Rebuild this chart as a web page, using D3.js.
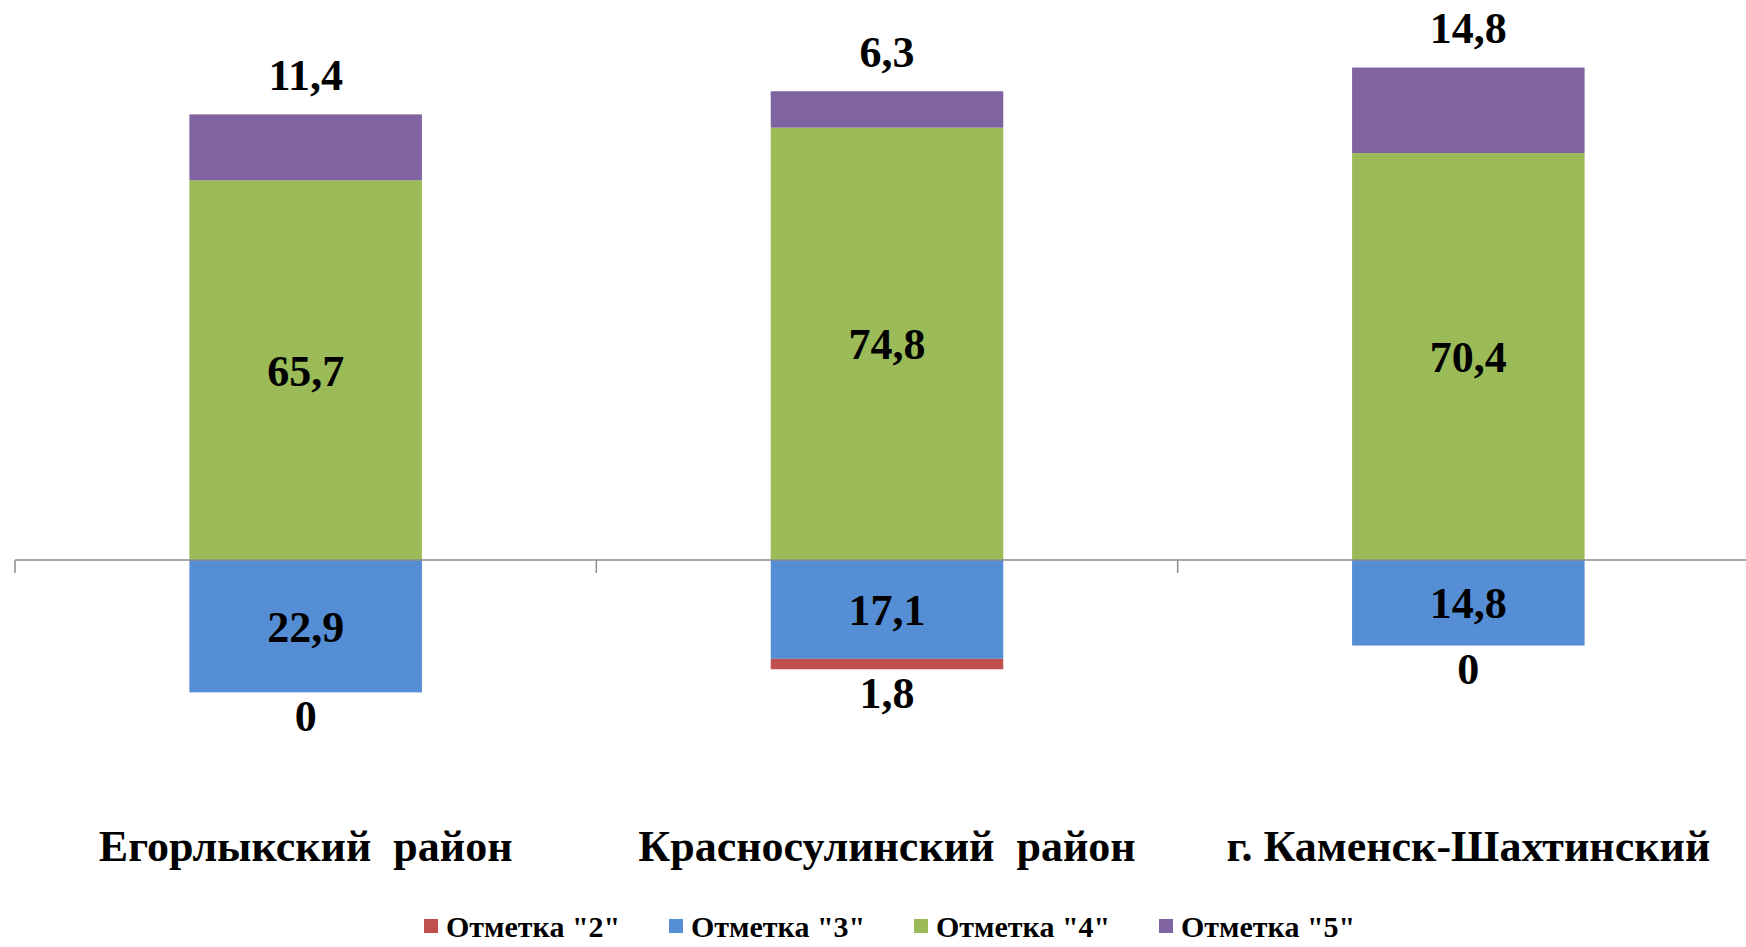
<!DOCTYPE html>
<html><head><meta charset="utf-8">
<script src="https://cdn.jsdelivr.net/npm/d3@7"></script>
<style>html,body{margin:0;padding:0;background:#fff;overflow:hidden}</style>
</head><body>
<svg id="c" width="1746" height="947"></svg>
<script>
const categories = ["Егорлыкский  район", "Красносулинский  район", "г. Каменск-Шахтинский"];
const seriesNames = ["Отметка \"2\"", "Отметка \"3\"", "Отметка \"4\"", "Отметка \"5\""];
const mark2 = [0, 1.8, 0];
const mark3 = [22.9, 17.1, 14.8];
const mark4 = [65.7, 74.8, 70.4];
const mark5 = [11.4, 6.3, 14.8];
const labels2 = ["0", "1,8", "0"];
const labels3 = ["22,9", "17,1", "14,8"];
const labels4 = ["65,7", "74,8", "70,4"];
const labels5 = ["11,4", "6,3", "14,8"];
const colors = ["#C0504D", "#558ED5", "#9BBB59", "#8064A2"];

const svg = d3.select("#c");
const font = "'Liberation Serif','Times New Roman',serif";

const x = d3.scaleBand().domain(categories).range([15, 1759]).paddingInner(0.6).paddingOuter(0.3);
const y = d3.scaleLinear().domain([-30, 90]).range([560 + 30 * 5.78, 560 - 90 * 5.78]);

const segs = [];
categories.forEach((c, i) => {
  segs.push({c, s: 2, y0: 0, y1: mark4[i], lab: labels4[i], pos: "mid"});
  segs.push({c, s: 3, y0: mark4[i], y1: mark4[i] + mark5[i], lab: labels5[i], pos: "top"});
  segs.push({c, s: 1, y0: 0, y1: -mark3[i], lab: labels3[i], pos: "mid"});
  segs.push({c, s: 0, y0: -mark3[i], y1: -mark3[i] - mark2[i], lab: labels2[i], pos: "bottom"});
});

svg.append("g").selectAll("rect").data(segs).join("rect")
  .attr("x", d => x(d.c))
  .attr("width", x.bandwidth())
  .attr("y", d => y(Math.max(d.y0, d.y1)))
  .attr("height", d => Math.abs(y(d.y0) - y(d.y1)))
  .attr("fill", d => colors[d.s]);

const step = x.step();
const bounds = categories.map(c => x(c) - step * 0.3);
bounds.push(x(categories[2]) + x.bandwidth() + step * 0.3);
const ax = svg.append("g");
ax.append("line").attr("x1", bounds[0]).attr("x2", bounds[3]).attr("y1", y(0)).attr("y2", y(0))
  .attr("stroke", "#8c8c8c").attr("stroke-width", 1.5);
ax.selectAll("line.t").data(bounds).join("line").attr("class", "t")
  .attr("x1", d => d).attr("x2", d => d).attr("y1", y(0)).attr("y2", y(0) + 13)
  .attr("stroke", "#8c8c8c").attr("stroke-width", 1.5);

svg.append("g").selectAll("text").data(segs).join("text")
  .attr("x", d => x(d.c) + x.bandwidth() / 2)
  .attr("y", d => {
    if (d.pos === "mid") return (y(d.y0) + y(d.y1)) / 2;
    if (d.pos === "top") return y(d.y1) - 40;
    return y(d.y1) + 23;
  })
  .attr("dy", "0.35em")
  .attr("text-anchor", "middle")
  .attr("font-family", font).attr("font-weight", "bold").attr("font-size", 44)
  .attr("fill", "#000")
  .text(d => d.lab);

svg.append("g").selectAll("text").data(categories).join("text")
  .attr("x", d => x(d) + x.bandwidth() / 2)
  .attr("y", 861)
  .attr("text-anchor", "middle")
  .attr("font-family", font).attr("font-weight", "bold").attr("font-size", 44)
  .attr("fill", "#000")
  .style("white-space", "pre")
  .text(d => d);

const legX = [424, 669, 914, 1159];
const lg = svg.append("g").selectAll("g").data(seriesNames).join("g")
  .attr("transform", (d, i) => `translate(${legX[i]},926)`);
lg.append("rect").attr("x", 0).attr("y", -7).attr("width", 14).attr("height", 14)
  .attr("fill", (d, i) => colors[i]);
lg.append("text").attr("x", 22).attr("y", 0).attr("dy", "0.35em")
  .attr("font-family", font).attr("font-weight", "bold").attr("font-size", 30)
  .text(d => d);
</script>
</body></html>
